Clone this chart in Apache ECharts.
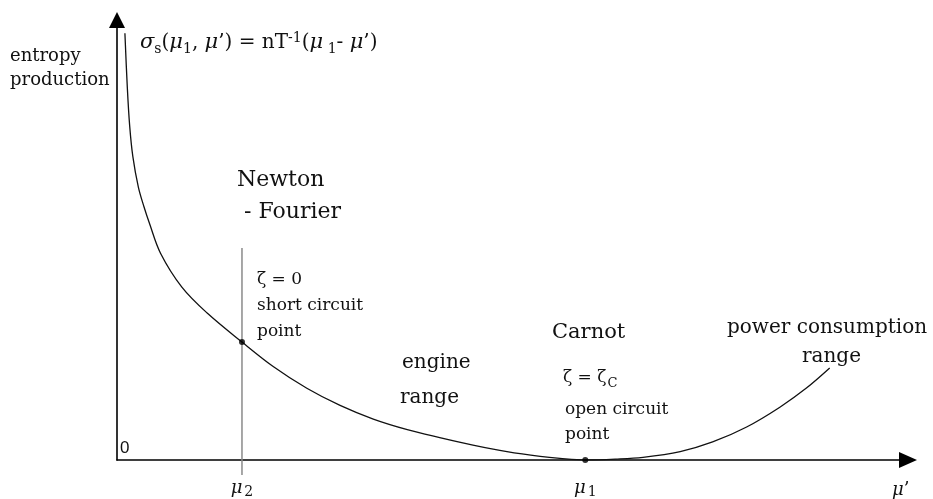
<!DOCTYPE html>
<html>
<head>
<meta charset="utf-8">
<script src="https://cdn.jsdelivr.net/npm/echarts@6/dist/echarts.min.js"></script>
<style>
  html, body { margin: 0; padding: 0; background: #fff; }
  #chart { width: 933px; height: 499px; }
</style>
</head>
<body>
<div id="chart"></div>
<script>
// Entropy production against the chemical potential μ' (arbitrary units)
const curveX = [1.0, 1.3, 1.6, 2.0, 2.7, 3.4, 4.1, 5.5, 8.2, 11.4, 15.8, 19.7, 24.0, 28.2, 32.4, 36.7, 40.8, 45.0, 49.3, 53.5, 56.0, 59.2, 63.0, 66.5, 71.2, 75.3, 79.6, 83.8, 87.2, 90.1];
const curveY = [97.0, 84.8, 76.0, 69.0, 62.0, 57.6, 53.8, 47.0, 39.3, 33.4, 26.8, 21.3, 16.3, 12.4, 9.3, 6.9, 5.1, 3.4, 1.9, 0.8, 0.35, 0.0, 0.2, 0.6, 1.9, 4.1, 7.5, 12.0, 16.4, 20.9];

// μ2 (short circuit) and μ1 (open circuit) on the μ' axis
const mu2 = 15.8;
const mu1 = 59.2;
const tickValues = [mu2, mu1];
const tickSubscripts = ['2', '1'];
const markedX = [mu2, mu1];
const markedY = [26.8, 0.0];
// vertical guide through μ2
const guideY = [-3.4, 48.2];

const serif = "'DejaVu Serif', serif";
const ink = '#111';

const curveData = curveX.map((x, i) => [x, curveY[i]]);
const markedData = markedX.map((x, i) => [x, markedY[i]]);
const guideData = guideY.map(y => [mu2, y]);

const formulaRich = {
  g: { fontFamily: serif, fontStyle: 'italic', fontSize: 21, color: ink },
  n: { fontFamily: serif, fontSize: 20, color: ink },
  sub: { fontFamily: serif, fontSize: 14, color: ink, padding: [12, 0, 0, 0] },
  sup: { fontFamily: serif, fontSize: 14, color: ink, padding: [0, 0, 9, 0] }
};

const zetaRich = {
  n: { fontFamily: serif, fontSize: 17, color: ink },
  sub: { fontFamily: serif, fontSize: 13, color: ink, padding: [11, 0, 0, 1] }
};

function label(text, x, y, size, rich, lineHeight) {
  return {
    type: 'text', x: x, y: y, silent: true,
    style: {
      text: text, fill: ink, fontFamily: serif, fontSize: size,
      lineHeight: lineHeight || undefined,
      verticalAlign: 'middle', align: 'left', rich: rich
    }
  };
}

const chart = echarts.init(document.getElementById('chart'));
chart.setOption({
  animation: false,
  backgroundColor: '#fff',
  grid: { left: 117, right: 25, top: 20, bottom: 39, containLabel: false, outerBoundsMode: 'none' },
  xAxis: {
    type: 'value', min: 0, max: 100,
    name: "{g|μ}{n|’}",
    nameLocation: 'end', nameGap: -16,
    nameTextStyle: {
      align: 'left', verticalAlign: 'top', padding: [21, 0, 0, 0],
      rich: { g: { fontFamily: serif, fontStyle: 'italic', fontSize: 18, color: ink }, n: { fontFamily: serif, fontSize: 18, color: ink } }
    },
    axisLine: { show: true, onZero: false, symbol: ['none', 'triangle'], symbolSize: [16, 18], lineStyle: { color: '#000', width: 1.6 } },
    axisTick: { show: false },
    splitLine: { show: false },
    axisLabel: {
      customValues: tickValues,
      margin: 17,
      formatter: function (v) {
        const i = tickValues.indexOf(v);
        return '{g|μ}{sub|' + (i >= 0 ? tickSubscripts[i] : '') + '}';
      },
      rich: {
        g: { fontFamily: serif, fontStyle: 'italic', fontSize: 18, color: ink },
        sub: { fontFamily: serif, fontSize: 14, color: ink, padding: [8, 0, 0, 2] }
      }
    }
  },
  yAxis: {
    type: 'value', min: 0, max: 100,
    axisLine: { show: true, onZero: false, symbol: ['none', 'triangle'], symbolSize: [16, 16], lineStyle: { color: '#000', width: 1.6 } },
    axisTick: { show: false },
    splitLine: { show: false },
    axisLabel: {
      customValues: [0],
      inside: true, margin: 3,
      verticalAlign: 'bottom', padding: [0, 0, 3, 0],
      fontFamily: "'Liberation Sans', sans-serif", fontSize: 17, color: ink
    }
  },
  series: [
    {
      type: 'line', data: guideData, clip: false, showSymbol: false, silent: true,
      lineStyle: { color: '#8a8a8a', width: 1.5 }, z: 1
    },
    {
      type: 'line', data: curveData, smooth: 0.35, showSymbol: false, silent: true,
      lineStyle: { color: ink, width: 1.3 }, z: 2
    },
    {
      type: 'scatter', data: markedData, clip: false, symbolSize: 6, silent: true,
      itemStyle: { color: '#000' }, z: 3
    }
  ],
  graphic: [
    label('entropy\nproduction', 10, 68, 18, null, 24),
    label('{g|σ}{sub|s}{n|(}{g|μ}{sub|1}{n|, }{g|μ}{n|’) = nT}{sup|-1}{n|(}{g|μ}{sub| 1}{n|- }{g|μ}{n|’)}', 140, 43, 20, formulaRich),
    label('Newton', 237, 180, 22),
    label(' - Fourier', 237, 212, 22),
    label('ζ = 0', 257, 280, 17),
    label('short circuit', 257, 306, 17),
    label('point', 257, 332, 17),
    label('engine', 402, 363, 20),
    label('range', 400, 398, 20),
    label('Carnot', 552, 333, 21),
    label('{n|ζ = ζ}{sub|C}', 563, 378, 17, zetaRich),
    label('open circuit', 565, 410, 17),
    label('point', 565, 435, 17),
    label('power consumption', 727, 328, 20),
    label('range', 802, 357, 20)
  ]
});
</script>
</body>
</html>
